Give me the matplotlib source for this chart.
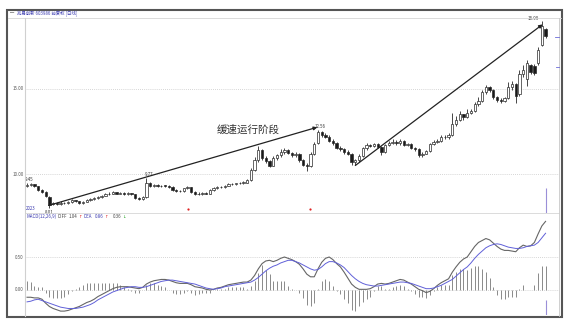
import matplotlib
matplotlib.use("Agg")
import matplotlib.pyplot as plt
from matplotlib.patches import Rectangle
from matplotlib.lines import Line2D

plt.rcParams['font.family'] = ['Noto Sans CJK SC', 'DejaVu Sans']

# ---------------- data ----------------
opens = [9.30, 9.38, 9.40, 9.28, 9.05, 8.95, 8.65, 8.22, 8.30, 8.25,
         8.32, 8.28, 8.35, 8.45, 8.40, 8.28, 8.38, 8.45, 8.55, 8.60,
         8.65, 8.72, 8.80, 8.85, 8.92, 8.85, 8.88, 8.82, 8.86, 8.80,
         8.60, 8.52, 8.62, 9.45, 9.30, 9.35, 9.28, 9.32, 9.30, 9.25,
         9.05, 8.98, 9.02, 9.15, 9.22, 8.95, 8.85, 8.82, 8.90, 8.85,
         9.05, 9.18, 9.25, 9.22, 9.32, 9.40, 9.42, 9.45, 9.48, 9.50,
         9.65, 10.25, 10.85, 11.40, 10.95, 10.75, 10.50, 10.95, 11.10, 11.30,
         11.40, 11.25, 11.10, 11.20, 10.80, 10.55, 10.45, 11.20, 11.80, 12.45,
         12.30, 12.20, 11.95, 11.80, 11.55, 11.45, 11.30, 11.20, 10.70, 10.80,
         11.05, 11.50, 11.70, 11.65, 11.75, 11.60, 11.30, 11.70, 11.85, 11.90,
         11.80, 11.95, 11.70, 11.75, 11.55, 11.45, 11.10, 11.20, 11.35, 11.75,
         11.90, 11.95, 12.20, 12.15, 12.30, 12.95, 13.20, 13.50, 13.35, 13.60,
         13.70, 14.10, 14.30, 14.80, 15.10, 14.95, 14.50, 14.35, 14.30, 14.45,
         15.10, 15.30, 14.70, 15.90, 15.60, 16.40, 16.35, 16.50, 17.60, 18.50]
closes = [9.38, 9.42, 9.30, 9.05, 8.95, 8.70, 8.20, 8.30, 8.25, 8.32,
          8.28, 8.35, 8.45, 8.40, 8.28, 8.38, 8.45, 8.55, 8.60, 8.65,
          8.72, 8.80, 8.85, 8.92, 8.85, 8.88, 8.82, 8.86, 8.80, 8.60,
          8.52, 8.62, 9.45, 9.30, 9.35, 9.28, 9.32, 9.30, 9.25, 9.05,
          8.98, 9.02, 9.15, 9.22, 8.95, 8.85, 8.82, 8.90, 8.85, 9.05,
          9.18, 9.25, 9.22, 9.32, 9.40, 9.42, 9.45, 9.48, 9.50, 9.62,
          10.25, 10.85, 11.40, 10.95, 10.75, 10.50, 10.95, 11.10, 11.30, 11.40,
          11.25, 11.10, 11.20, 10.80, 10.55, 10.45, 11.20, 11.75, 12.45, 12.30,
          12.20, 11.95, 11.80, 11.55, 11.45, 11.30, 11.20, 10.70, 10.80, 11.05,
          11.50, 11.70, 11.65, 11.75, 11.60, 11.30, 11.70, 11.85, 11.90, 11.80,
          11.95, 11.70, 11.75, 11.55, 11.45, 11.10, 11.20, 11.35, 11.75, 11.90,
          11.95, 12.20, 12.15, 12.30, 12.95, 13.20, 13.50, 13.35, 13.60, 13.70,
          14.10, 14.30, 14.80, 15.10, 14.95, 14.50, 14.35, 14.30, 14.45, 15.10,
          15.30, 14.60, 15.90, 16.10, 16.50, 16.00, 15.95, 17.30, 18.70, 18.10]
highs = [9.45, 9.48, 9.44, 9.32, 9.10, 9.00, 8.70, 8.38, 8.36, 8.40,
         8.38, 8.42, 8.52, 8.50, 8.44, 8.44, 8.52, 8.60, 8.66, 8.72,
         8.78, 8.86, 8.92, 9.00, 8.96, 8.94, 8.92, 8.92, 8.90, 8.84,
         8.66, 8.70, 9.77, 9.52, 9.42, 9.40, 9.38, 9.38, 9.34, 9.28,
         9.10, 9.08, 9.20, 9.30, 9.26, 9.00, 8.92, 8.96, 8.94, 9.10,
         9.24, 9.30, 9.32, 9.38, 9.46, 9.48, 9.50, 9.53, 9.56, 9.70,
         10.35, 11.00, 11.65, 11.45, 11.05, 10.80, 11.05, 11.20, 11.45, 11.55,
         11.48, 11.32, 11.30, 11.25, 10.90, 10.65, 11.30, 11.90, 12.56, 12.50,
         12.40, 12.28, 12.05, 11.90, 11.62, 11.55, 11.40, 11.25, 10.90, 11.15,
         11.60, 11.82, 11.78, 11.85, 11.80, 11.66, 11.78, 11.95, 12.05, 11.98,
         12.05, 12.00, 11.85, 11.80, 11.60, 11.50, 11.28, 11.42, 11.82, 11.98,
         12.05, 12.28, 12.30, 12.40, 13.60, 13.40, 13.70, 13.55, 13.85, 13.82,
         14.25, 14.50, 14.95, 15.25, 15.20, 15.00, 14.60, 14.48, 14.55, 15.40,
         15.45, 15.35, 16.10, 16.40, 16.70, 16.45, 16.45, 17.45, 18.99, 18.60]
lows = [9.25, 9.32, 9.24, 9.00, 8.88, 8.62, 8.01, 8.15, 8.18, 8.20,
        8.22, 8.22, 8.30, 8.35, 8.22, 8.24, 8.34, 8.40, 8.50, 8.55,
        8.60, 8.68, 8.75, 8.80, 8.80, 8.80, 8.78, 8.78, 8.74, 8.52,
        8.45, 8.46, 8.58, 9.22, 9.24, 9.22, 9.24, 9.24, 9.18, 8.98,
        8.92, 8.92, 8.96, 9.10, 8.90, 8.78, 8.76, 8.78, 8.80, 8.80,
        9.00, 9.12, 9.16, 9.18, 9.28, 9.35, 9.38, 9.40, 9.44, 9.46,
        9.60, 10.15, 10.70, 10.85, 10.65, 10.40, 10.45, 10.85, 11.00, 11.20,
        11.15, 11.00, 11.02, 10.72, 10.45, 10.20, 10.40, 11.10, 11.75, 12.15,
        12.10, 11.88, 11.70, 11.45, 11.35, 11.20, 11.10, 10.55, 10.55, 10.72,
        11.00, 11.42, 11.58, 11.58, 11.52, 11.10, 11.25, 11.62, 11.78, 11.72,
        11.72, 11.62, 11.65, 11.48, 11.38, 11.02, 11.02, 11.15, 11.30, 11.68,
        11.82, 11.90, 12.05, 12.08, 12.25, 12.80, 13.10, 13.20, 13.30, 13.50,
        13.62, 14.00, 14.25, 14.70, 14.85, 14.40, 14.25, 14.20, 14.22, 14.40,
        14.95, 14.20, 14.60, 15.70, 15.20, 15.90, 15.85, 16.40, 17.50, 18.00]

diff = [-0.11, -0.11, -0.12, -0.12, -0.14, -0.20, -0.25, -0.28, -0.30, -0.32,
        -0.32, -0.31, -0.29, -0.27, -0.25, -0.22, -0.19, -0.17, -0.14, -0.10,
        -0.07, -0.04, -0.01, 0.02, 0.04, 0.05, 0.05, 0.05, 0.04, 0.03,
        0.02, 0.04, 0.09, 0.12, 0.14, 0.15, 0.16, 0.16, 0.15, 0.13,
        0.11, 0.10, 0.10, 0.10, 0.08, 0.05, 0.04, 0.03, 0.01, 0.00,
        0.01, 0.03, 0.04, 0.06, 0.08, 0.09, 0.10, 0.11, 0.12, 0.12,
        0.15, 0.22, 0.32, 0.40, 0.44, 0.45, 0.43, 0.45, 0.48, 0.50,
        0.48, 0.46, 0.43, 0.39, 0.32, 0.24, 0.20, 0.20, 0.32, 0.42,
        0.48, 0.50, 0.46, 0.40, 0.35, 0.27, 0.18, 0.09, 0.04, 0.01,
        0.01, 0.01, 0.02, 0.05, 0.09, 0.10, 0.09, 0.10, 0.12, 0.14,
        0.16, 0.15, 0.12, 0.09, 0.05, 0.01, -0.01, -0.04, -0.02, 0.02,
        0.07, 0.11, 0.14, 0.17, 0.27, 0.35, 0.42, 0.47, 0.50, 0.58,
        0.66, 0.72, 0.75, 0.78, 0.76, 0.71, 0.66, 0.62, 0.60, 0.60,
        0.59, 0.58, 0.64, 0.68, 0.66, 0.67, 0.72, 0.85, 0.97, 1.04]
dea = [-0.18, -0.17, -0.15, -0.14, -0.16, -0.18, -0.20, -0.22, -0.24, -0.26,
       -0.27, -0.28, -0.28, -0.28, -0.27, -0.26, -0.24, -0.22, -0.19, -0.15,
       -0.12, -0.09, -0.06, -0.03, -0.01, 0.01, 0.03, 0.04, 0.05, 0.05,
       0.04, 0.04, 0.05, 0.07, 0.09, 0.11, 0.13, 0.14, 0.15, 0.15,
       0.14, 0.13, 0.12, 0.11, 0.10, 0.09, 0.07, 0.05, 0.03, 0.02,
       0.01, 0.02, 0.03, 0.05, 0.06, 0.07, 0.08, 0.09, 0.10, 0.11,
       0.12, 0.15, 0.19, 0.24, 0.29, 0.33, 0.36, 0.38, 0.41, 0.43,
       0.45, 0.45, 0.43, 0.41, 0.38, 0.35, 0.32, 0.30, 0.31, 0.35,
       0.40, 0.43, 0.43, 0.41, 0.38, 0.34, 0.28, 0.22, 0.17, 0.13,
       0.10, 0.08, 0.07, 0.06, 0.06, 0.07, 0.08, 0.09, 0.10, 0.11,
       0.12, 0.12, 0.11, 0.10, 0.08, 0.06, 0.04, 0.02, 0.02, 0.03,
       0.05, 0.07, 0.10, 0.13, 0.16, 0.21, 0.26, 0.31, 0.35, 0.41,
       0.48, 0.54, 0.59, 0.64, 0.67, 0.69, 0.70, 0.69, 0.67, 0.65,
       0.64, 0.63, 0.63, 0.64, 0.66, 0.67, 0.68, 0.72, 0.79, 0.86]
macd_hist = [0.14, 0.12, 0.06, 0.04, 0.04, -0.04, -0.10, -0.12, -0.12, -0.12,
             -0.10, -0.06, -0.02, 0.02, 0.04, 0.08, 0.10, 0.10, 0.10, 0.10,
             0.10, 0.10, 0.10, 0.10, 0.10, 0.08, 0.04, 0.02, -0.02, -0.04,
             -0.04, 0.00, 0.08, 0.10, 0.10, 0.08, 0.06, 0.04, 0.00, -0.04,
             -0.06, -0.06, -0.04, -0.02, -0.04, -0.08, -0.06, -0.04, -0.04, -0.04,
             0.00, 0.02, 0.02, 0.02, 0.04, 0.04, 0.04, 0.04, 0.04, 0.02,
             0.06, 0.14, 0.26, 0.38, 0.30, 0.24, 0.14, 0.14, 0.14, 0.14,
             0.06, 0.02, 0.00, -0.04, -0.12, -0.22, -0.24, -0.20, 0.02, 0.14,
             0.16, 0.14, 0.06, -0.02, -0.06, -0.14, -0.20, -0.30, -0.32, -0.24,
             -0.18, -0.14, -0.10, -0.02, 0.06, 0.06, 0.02, 0.02, 0.04, 0.06,
             0.08, 0.06, 0.02, -0.02, -0.06, -0.10, -0.10, -0.12, -0.08, -0.02,
             0.04, 0.08, 0.08, 0.08, 0.22, 0.28, 0.32, 0.32, 0.30, 0.34,
             0.36, 0.36, 0.32, 0.28, 0.18, 0.04, -0.08, -0.14, -0.14, -0.10,
             -0.10, -0.10, 0.02, 0.08, 0.00, 0.00, 0.08, 0.26, 0.36, 0.36]

price_ticks = [10.0, 15.0]
price_tick_labels = ["10.00", "15.00"]
macd_ticks = [0.0, 0.5]
macd_tick_labels = ["0.00", "0.50"]

# annotated extreme prices: (index, price, label)
price_marks = [(0, 9.45, "9.45"), (6, 8.01, "8.01"), (32, 9.77, "9.77"),
               (78, 12.56, "12.56"), (138, 18.99, "18.99")]
# trend lines (index, price) start -> end
trend1 = [(5.8, 8.15), (77.8, 12.75)]
trend2 = [(88.0, 10.50), (138.2, 18.80)]
signal_dots = [43.2, 75.9]
stage_text = "缓速运行阶段"
title_text = "兆易创新 603986 前复权 [日线]"

# ---------------- layout ----------------
W, H = 569, 326
fig = plt.figure(figsize=(W / 100, H / 100), dpi=100)
fig.patch.set_facecolor("white")

def fx(x):
    return x / W

def fy(y):
    return 1 - y / H

L, R = 25, 559
ax = fig.add_axes([fx(L), fy(213), (R - L) / W, (213 - 17) / H])
ax2 = fig.add_axes([fx(L), fy(315), (R - L) / W, (315 - 213) / H])

n = len(closes)
xmin, xmax = -0.54, 142.6
for a in (ax, ax2):
    a.set_xlim(xmin, xmax)
    for s in a.spines.values():
        s.set_visible(False)
    a.set_xticks([])
    a.set_yticks([])
    a.patch.set_alpha(0)

ax.set_ylim(7.706, 19.235)
ax2.set_ylim(-0.379, 1.167)

# grid lines
for t in price_ticks:
    ax.axhline(t, color="#c8c8c8", lw=0.6, ls=(0, (1, 1.5)), zorder=0)
for t in macd_ticks:
    ax2.axhline(t, color="#c8c8c8", lw=0.6, ls=(0, (1, 1.5)), zorder=0)

# candles
cw = 0.62
for i in range(n):
    o, c, h, l = opens[i], closes[i], highs[i], lows[i]
    ax.vlines(i, l, h, color="#2a2a2a", lw=0.6, zorder=2)
    up = c >= o
    bottom = min(o, c)
    height = max(abs(c - o), 0.03)
    ax.add_patch(Rectangle((i - cw / 2, bottom), cw, height,
                           facecolor="white" if up else "#1a1a1a",
                           edgecolor="#2a2a2a", lw=0.5, zorder=3))

# extreme labels
for idx, p, lab in price_marks:
    if p < 9:
        ax.text(idx, p - 0.12, lab, fontsize=3.2, color="#333333",
                ha="center", va="top")
    elif idx == n - 2:
        ax.text(idx - 0.8, p + 0.02, lab, fontsize=3.2, color="#333333",
                ha="right", va="bottom")
    else:
        ax.text(idx + 0.6, p + 0.08, lab, fontsize=3.2, color="#333333",
                ha="center", va="bottom")

# trend lines with arrows
for tr in (trend1, trend2):
    ax.annotate("", xy=tr[1], xytext=tr[0],
                arrowprops=dict(arrowstyle="-|>", color="#222222", lw=0.9,
                                mutation_scale=5, shrinkA=0, shrinkB=0),
                zorder=5)

ax.text(59.2, 12.62, stage_text, fontsize=7.6, color="#333333",
        ha="center", va="center", zorder=6)

# signal dots
for d in signal_dots:
    ax.plot(d, 7.92, "o", color="#e02020", ms=1.6, mec="none", zorder=4)

# cursor at last bar
ax.vlines(n - 1, 7.706, 9.2, color="#9a8fd8", lw=0.8, zorder=1)
ax2.vlines(n - 1, -0.379, -0.15, color="#9a8fd8", lw=0.8, zorder=1)

# MACD
xs = list(range(n))
ax2.vlines(xs, 0, macd_hist, color="#8a8a8a", lw=0.7, zorder=2)
ax2.plot(xs, diff, color="#666666", lw=0.8, zorder=3)
ax2.plot(xs, dea, color="#6060d8", lw=0.7, zorder=3)

# tick labels (left margin)
for t, lab in zip(price_ticks, price_tick_labels):
    ax.text(-0.9, t, lab, fontsize=3.2, color="#555555", ha="right",
            va="center", transform=ax.get_yaxis_transform() if False else ax.transData,
            clip_on=False)
for t, lab in zip(macd_ticks, macd_tick_labels):
    ax2.text(-0.9, t, lab, fontsize=3.2, color="#555555", ha="right",
             va="center", clip_on=False)

# ---------------- frame & decorations ----------------
def hline(y, x0, x1, color, lw):
    fig.add_artist(Line2D([fx(x0), fx(x1)], [fy(y), fy(y)], color=color, lw=lw))

def vline(x, y0, y1, color, lw):
    fig.add_artist(Line2D([fx(x), fx(x)], [fy(y0), fy(y1)], color=color, lw=lw))

hline(17.5, 8, 561, "#d6d6d6", 0.6)
hline(213, L, R, "#d6d6d6", 0.6)
vline(L, 17.5, 316, "#d0d0d0", 0.8)
vline(R, 17.5, 316, "#c8c8c8", 0.6)
# right axis marks
hline(37, 555, R, "#6a6ad8", 0.6)
hline(67, 556, R, "#6a6ad8", 0.6)
# outer frame
fig.add_artist(Rectangle((fx(7), fy(316.5)), (561.5 - 7) / W, (316.5 - 10) / H,
                         fill=False, edgecolor="#555555", lw=1.5))
# title
fig.text(fx(10), fy(13.5), "━", fontsize=3, color="#777777", va="center")
fig.text(fx(17), fy(13.5), title_text, fontsize=3.2, color="#3a3ab0",
         va="center")

# bottom-left labels
fig.text(fx(26), fy(209), "2023", fontsize=3.2, color="#3a3ab0", va="center")
y_leg = 216.5
fig.text(fx(26), fy(y_leg), "MACD(12,26,9)", fontsize=3.2, color="#3a3ab0", va="center")
fig.text(fx(58), fy(y_leg), "DIFF", fontsize=3.2, color="#444444", va="center")
fig.text(fx(69), fy(y_leg), "1.04", fontsize=3.2, color="#444444", va="center")
fig.text(fx(78), fy(y_leg), "↑", fontsize=3.2, color="#e02020", va="center",
         family=["DejaVu Sans"])
fig.text(fx(83), fy(y_leg), "DEA", fontsize=3.2, color="#3a3ab0", va="center")
fig.text(fx(95), fy(y_leg), "0.86", fontsize=3.2, color="#3a3ab0", va="center")
fig.text(fx(104), fy(y_leg), "↑", fontsize=3.2, color="#e02020", va="center",
         family=["DejaVu Sans"])
fig.text(fx(113), fy(y_leg), "0.36", fontsize=3.2, color="#444444", va="center")
fig.text(fx(122), fy(y_leg), "↓", fontsize=3.2, color="#20a020", va="center",
         family=["DejaVu Sans"])

fig.savefig("out.png", dpi=100, facecolor="white")
